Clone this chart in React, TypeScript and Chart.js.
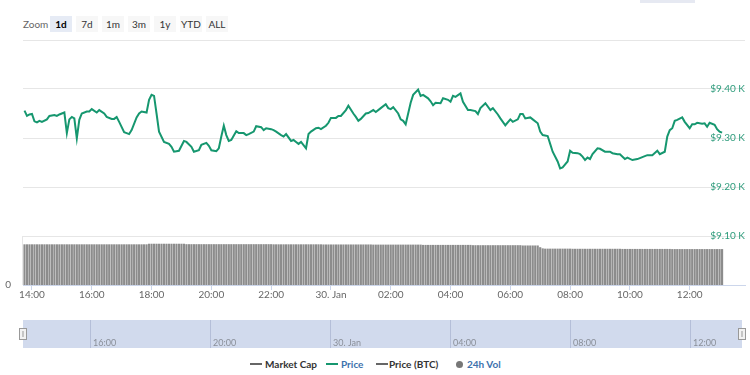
import React, { useEffect, useRef } from 'react';
import { Chart, registerables } from 'chart.js';
Chart.register(...registerables);

// ---- data -------------------------------------------------------------
// time axis in hours from 00:00, 29 Jan (24 = 30 Jan 00:00)
const START_HOUR = 13.75; // first 5-minute bar at 13:45
const STEP_HOURS = 5 / 60;

const xTickHours = [14, 16, 18, 20, 22, 24, 26, 28, 30, 32, 34, 36];
const navTickHours = [16, 20, 24, 28, 32, 36];
const priceTickValues = [9100, 9200, 9300, 9400];
const zoomButtons = ['1d', '7d', '1m', '3m', '1y', 'YTD', 'ALL'];

// price (USD): slot = index of the 5-minute bar it belongs to
const priceSlot = [
  0, 1, 2, 3, 4, 5, 6, 7, 9, 10, 12, 13, 14, 16, 17, 18, 19, 20, 21, 22,
  23, 25, 26, 27, 29, 30, 32, 33, 35, 36, 37, 38, 40, 41, 42, 43, 45, 46, 47, 49,
  50, 51, 52, 53, 54, 56, 58, 59, 60, 61, 62, 64, 65, 67, 68, 70, 71, 73, 74, 75,
  77, 78, 79, 80, 81, 82, 83, 85, 86, 88, 89, 90, 92, 93, 95, 96, 97, 99, 100, 101,
  103, 104, 105, 107, 108, 109, 110, 111, 113, 114, 115, 117, 118, 119, 121, 122, 123, 125, 126, 127,
  129, 130, 132, 133, 134, 135, 137, 138, 140, 141, 143, 145, 146, 147, 148, 150, 151, 152, 153, 154,
  155, 156, 158, 159, 160, 162, 163, 164, 165, 167, 168, 170, 171, 172, 173, 175, 176, 178, 179, 181,
  182, 183, 185, 187, 188, 190, 191, 193, 195, 196, 198, 199, 200, 201, 203, 204, 206, 207, 208, 210,
  211, 212, 214, 215, 216, 218, 219, 220, 222, 223, 224, 225, 226, 227, 228, 230, 231, 233, 235, 236,
  238, 239, 241, 242, 244, 246, 247, 249, 250, 252, 254, 255, 257, 258, 259, 260, 261, 262, 264, 265,
  267, 268, 269, 270, 272, 273, 274, 275, 277, 278, 279, 280,
];
const priceUsd = [
  9356, 9345, 9348, 9349, 9334, 9332, 9335, 9333, 9338, 9345, 9347, 9345, 9348, 9352, 9310, 9338, 9343, 9340, 9299, 9337,
  9350, 9354, 9354, 9359, 9352, 9357, 9350, 9343, 9339, 9339, 9343, 9333, 9312, 9310, 9308, 9316, 9342, 9350, 9354, 9352,
  9378, 9388, 9386, 9350, 9313, 9292, 9288, 9282, 9272, 9273, 9274, 9294, 9292, 9282, 9272, 9275, 9286, 9290, 9284, 9275,
  9273, 9279, 9303, 9325, 9306, 9294, 9296, 9314, 9310, 9310, 9306, 9308, 9313, 9324, 9322, 9316, 9320, 9318, 9316, 9313,
  9306, 9303, 9308, 9294, 9296, 9292, 9288, 9292, 9279, 9308, 9313, 9320, 9321, 9318, 9325, 9331, 9341, 9341, 9345, 9345,
  9357, 9366, 9350, 9343, 9335, 9339, 9350, 9351, 9357, 9353, 9361, 9369, 9361, 9359, 9363, 9350, 9338, 9335, 9328, 9350,
  9372, 9388, 9399, 9386, 9388, 9381, 9375, 9367, 9372, 9371, 9381, 9378, 9374, 9386, 9384, 9391, 9374, 9357, 9357, 9355,
  9349, 9361, 9371, 9357, 9361, 9348, 9340, 9326, 9338, 9333, 9338, 9349, 9349, 9340, 9342, 9338, 9330, 9313, 9306, 9304,
  9288, 9272, 9252, 9238, 9240, 9252, 9274, 9270, 9269, 9267, 9262, 9255, 9260, 9257, 9267, 9279, 9278, 9272, 9272, 9269,
  9267, 9267, 9257, 9260, 9255, 9257, 9259, 9263, 9265, 9265, 9274, 9267, 9272, 9303, 9316, 9320, 9335, 9337, 9342, 9333,
  9320, 9328, 9328, 9331, 9329, 9330, 9323, 9331, 9327, 9318, 9313, 9311,
];

// 24h volume (billion USD), one bar every 5 minutes from 13:45
const volumeB = [
  28.0, 28.0, 28.0, 28.0, 28.0, 28.0, 28.0, 28.0, 28.0, 28.0, 28.0, 28.0, 28.0, 28.0, 28.0, 28.0, 28.0, 28.0, 28.0, 28.0,
  28.0, 28.0, 28.0, 28.0, 28.0, 28.0, 28.0, 28.0, 28.0, 28.0, 28.0, 28.0, 28.0, 28.0, 28.0, 28.0, 28.0, 28.0, 28.0, 28.0,
  28.0, 28.0, 28.0, 28.0, 28.0, 28.0, 28.0, 28.0, 28.0, 28.0, 28.4, 28.4, 28.4, 28.4, 28.4, 28.4, 28.4, 28.4, 28.4, 28.4,
  28.4, 28.4, 28.4, 28.4, 28.4, 28.1, 28.1, 28.1, 28.1, 28.1, 28.1, 28.1, 28.1, 28.1, 28.1, 28.1, 28.1, 28.1, 28.1, 28.1,
  28.1, 28.1, 28.1, 28.1, 28.1, 28.1, 28.1, 28.1, 28.1, 28.1, 28.1, 28.1, 28.1, 28.1, 28.1, 28.1, 28.1, 28.1, 28.1, 28.1,
  28.0, 28.0, 28.0, 28.0, 28.0, 28.0, 28.0, 28.0, 28.0, 28.0, 28.0, 28.0, 28.0, 28.0, 28.0, 28.0, 28.0, 28.0, 28.0, 28.0,
  27.9, 27.9, 27.9, 27.9, 27.9, 27.9, 27.9, 27.9, 27.9, 27.9, 27.9, 27.9, 27.9, 27.9, 27.9, 27.9, 27.9, 27.9, 27.9, 27.9,
  27.8, 27.8, 27.8, 27.8, 27.8, 27.8, 27.8, 27.8, 27.8, 27.8, 27.8, 27.8, 27.8, 27.8, 27.8, 27.8, 27.8, 27.8, 27.8, 27.8,
  27.6, 27.6, 27.6, 27.6, 27.6, 27.6, 27.6, 27.6, 27.6, 27.6, 27.6, 27.6, 27.6, 27.6, 27.6, 27.6, 27.6, 27.6, 27.6, 27.6,
  27.4, 27.4, 27.4, 27.4, 27.4, 27.4, 27.4, 27.4, 27.4, 27.4, 27.4, 27.4, 27.4, 27.4, 27.4, 27.4, 27.4, 27.4, 27.4, 27.4,
  27.2, 27.2, 27.2, 27.2, 27.2, 27.2, 27.2, 26.0, 25.2, 25.0, 25.0, 25.0, 25.0, 25.0, 25.0, 25.0, 25.0, 25.0, 25.0, 25.0,
  24.9, 24.9, 24.9, 24.9, 24.9, 24.9, 24.9, 24.9, 24.9, 24.9, 24.9, 24.9, 24.9, 24.9, 24.9, 24.9, 24.9, 24.9, 24.9, 24.9,
  24.8, 24.8, 24.8, 24.8, 24.8, 24.8, 24.8, 24.8, 24.8, 24.8, 24.8, 24.8, 24.8, 24.8, 24.8, 24.8, 24.8, 24.8, 24.8, 24.8,
  24.7, 24.7, 24.7, 24.7, 24.7, 24.7, 24.7, 24.7, 24.7, 24.7, 24.7, 24.7, 24.7, 24.7, 24.7, 24.7, 24.7, 24.7, 24.7, 24.7,
  24.7,
];

// ---- helpers ----------------------------------------------------------
const FONT = 'Lato, "Open Sans", "DejaVu Sans", sans-serif';
const hourLabel = (v: number) => (v === 24 ? '30. Jan' : String(v % 24).padStart(2, '0') + ':00');
const priceLabel = (v: number) => '$' + (v / 1000).toFixed(2) + ' K';

const paneBorder = {
  id: 'paneBorder',
  afterDraw(chart: any) {
    const { ctx, chartArea, scales } = chart;
    const top = scales.y.getPixelForValue(9100);
    ctx.save();
    ctx.strokeStyle = '#e6e6e6';
    ctx.lineWidth = 1;
    ctx.beginPath();
    ctx.moveTo(Math.round(chartArea.left) - 0.5, top);
    ctx.lineTo(Math.round(chartArea.left) - 0.5, chartArea.bottom);
    ctx.stroke();
    ctx.restore();
  },
};

const navDecor = {
  id: 'navDecor',
  beforeDraw(chart: any) {
    const { ctx, chartArea, height } = chart;
    ctx.save();
    ctx.fillStyle = 'rgba(102,133,194,0.3)';
    ctx.fillRect(chartArea.left, 0, chartArea.right - chartArea.left, height);
    ctx.restore();
  },
  afterDraw(chart: any) {
    const { ctx, chartArea } = chart;
    ctx.save();
    [chartArea.left, chartArea.right].forEach((x: number) => {
      const hx = Math.round(x) - 3.5;
      ctx.fillStyle = '#f2f2f2';
      ctx.strokeStyle = '#999';
      ctx.lineWidth = 1;
      ctx.fillRect(hx, 8.5, 7, 11);
      ctx.strokeRect(hx, 8.5, 7, 11);
      ctx.beginPath();
      ctx.moveTo(hx + 3.5, 11);
      ctx.lineTo(hx + 3.5, 17);
      ctx.stroke();
    });
    ctx.restore();
  },
};

export default function App() {
  const mainRef = useRef<HTMLCanvasElement>(null);
  const navRef = useRef<HTMLCanvasElement>(null);

  useEffect(() => {
    const main = new Chart(mainRef.current as HTMLCanvasElement, {
      type: 'bar',
      data: {
        datasets: [
          {
            type: 'line',
            label: 'Price',
            data: priceSlot.map((s, i) => ({ x: START_HOUR + s * STEP_HOURS, y: priceUsd[i] })),
            yAxisID: 'y',
            borderColor: '#16976f',
            borderWidth: 2,
            pointRadius: 0,
            tension: 0,
            order: 0,
          } as any,
          {
            type: 'bar',
            label: '24h Vol',
            data: volumeB.map((v, i) => ({ x: START_HOUR + i * STEP_HOURS, y: v })),
            yAxisID: 'yv',
            backgroundColor: '#8c8c8c',
            barThickness: 1.5,
            order: 1,
          } as any,
        ],
      },
      options: {
        animation: false,
        responsive: false,
        maintainAspectRatio: false,
        layout: { padding: { top: 40, left: 0, right: 0, bottom: 0 } },
        plugins: { legend: { display: false }, tooltip: { enabled: false } },
        scales: {
          x: {
            type: 'linear',
            offset: false,
            min: 13.7,
            max: 37.85,
            afterBuildTicks: (s: any) => { s.ticks = xTickHours.map((v) => ({ value: v })); },
            afterFit: (s: any) => { s.height = 25; s.paddingLeft = 0; s.paddingRight = 0; },
            grid: { offset: false, drawOnChartArea: false, drawTicks: true, tickLength: 5, color: '#ccd6eb' },
            border: { color: '#ccd6eb' },
            ticks: {
              autoSkip: false, maxRotation: 0, padding: -1,
              color: '#666', font: { family: FONT, size: 10 },
              callback: (v: any) => hourLabel(Number(v)),
            },
          },
          y: {
            type: 'linear',
            position: 'right',
            min: 9000,
            max: 9500,
            afterBuildTicks: (s: any) => { s.ticks = [9000, 9100, 9200, 9300, 9400, 9500].map((v) => ({ value: v })); },
            afterFit: (s: any) => { s.width = 5; },
            grid: {
              drawTicks: false,
              color: (c: any) => (c.tick && c.tick.value === 9000 ? 'rgba(0,0,0,0)' : '#e6e6e6'),
            },
            border: { display: false },
            ticks: {
              mirror: true, padding: 0,
              color: '#2e9c7c', font: { family: FONT, size: 10 },
              callback: (v: any) => (priceTickValues.includes(Number(v)) ? priceLabel(Number(v)) : ''),
            },
          },
          yv: {
            type: 'linear',
            position: 'left',
            min: 0,
            max: 170,
            afterBuildTicks: (s: any) => { s.ticks = [{ value: 0 }]; },
            afterFit: (s: any) => { s.width = 23; },
            grid: { display: false, drawTicks: false },
            border: { display: false },
            ticks: { padding: 12, color: '#666', font: { family: FONT, size: 10 } },
          },
        },
      } as any,
      plugins: [paneBorder],
    });

    const nav = new Chart(navRef.current as HTMLCanvasElement, {
      type: 'line',
      data: { datasets: [] },
      options: {
        animation: false,
        responsive: false,
        maintainAspectRatio: false,
        layout: { padding: { top: 0, left: 23, right: 8, bottom: 0 } },
        plugins: { legend: { display: false }, tooltip: { enabled: false } },
        scales: {
          x: {
            type: 'linear',
            offset: false,
            min: 13.743,
            max: 37.71,
            afterBuildTicks: (s: any) => { s.ticks = navTickHours.map((v) => ({ value: v })); },
            afterFit: (s: any) => { s.height = 10; s.paddingLeft = 0; s.paddingRight = 0; },
            grid: { drawOnChartArea: true, drawTicks: true, tickLength: 10, color: '#b4bed8' },
            border: { display: false },
            ticks: {
              autoSkip: false, maxRotation: 0, align: 'start', padding: -10,
              color: '#8a8f99', font: { family: FONT, size: 9 },
              callback: (v: any) => ' ' + hourLabel(Number(v)),
            },
          },
          y: { display: false, min: 0, max: 1 },
        },
      } as any,
      plugins: [navDecor],
    });

    return () => { main.destroy(); nav.destroy(); };
  }, []);

  const btnStyle = (i: number): React.CSSProperties => ({
    position: 'absolute', left: 50 + i * 26, top: 16, width: 22, height: 16,
    background: i === 0 ? '#e6ebf5' : '#f7f7f7', color: i === 0 ? '#000' : '#333',
    fontWeight: i === 0 ? 700 : 400, fontSize: 10, lineHeight: '16px', textAlign: 'center',
  });

  const legendText = (left: number, color: string): React.CSSProperties => ({
    position: 'absolute', left, top: 358, lineHeight: '12px', fontSize: 10, fontWeight: 700, color, whiteSpace: 'nowrap',
  });
  const legendLine = (left: number, color: string): React.CSSProperties => ({
    position: 'absolute', left, top: 363, width: 12, height: 2, background: color,
  });

  return (
    <div style={{ position: 'fixed', left: 0, top: 0, width: 750, height: 375, background: '#fff', overflow: 'hidden', fontFamily: FONT }}>
      <div style={{ position: 'absolute', left: 640, top: 0, width: 55, height: 3, background: '#e6e9f2' }} />
      <div style={{ position: 'absolute', left: 23, top: 18, fontSize: 10, lineHeight: '12px', color: '#666' }}>Zoom</div>
      {zoomButtons.map((b, i) => (
        <div key={b} style={btnStyle(i)}>{b}</div>
      ))}
      <canvas ref={mainRef} width={750} height={310} style={{ position: 'absolute', left: 0, top: 0, width: 750, height: 310 }} />
      <canvas ref={navRef} width={750} height={28} style={{ position: 'absolute', left: 0, top: 320, width: 750, height: 28 }} />
      <div style={legendLine(250, '#666')} />
      <div style={legendText(265, '#333')}>Market Cap</div>
      <div style={legendLine(326, '#16976f')} />
      <div style={legendText(341, '#3d72ad')}>Price</div>
      <div style={legendLine(376, '#666')} />
      <div style={legendText(389, '#333')}>Price (BTC)</div>
      <div style={{ position: 'absolute', left: 456, top: 360.5, width: 7, height: 7, borderRadius: '50%', background: '#777' }} />
      <div style={legendText(467, '#3d72ad')}>24h Vol</div>
    </div>
  );
}
